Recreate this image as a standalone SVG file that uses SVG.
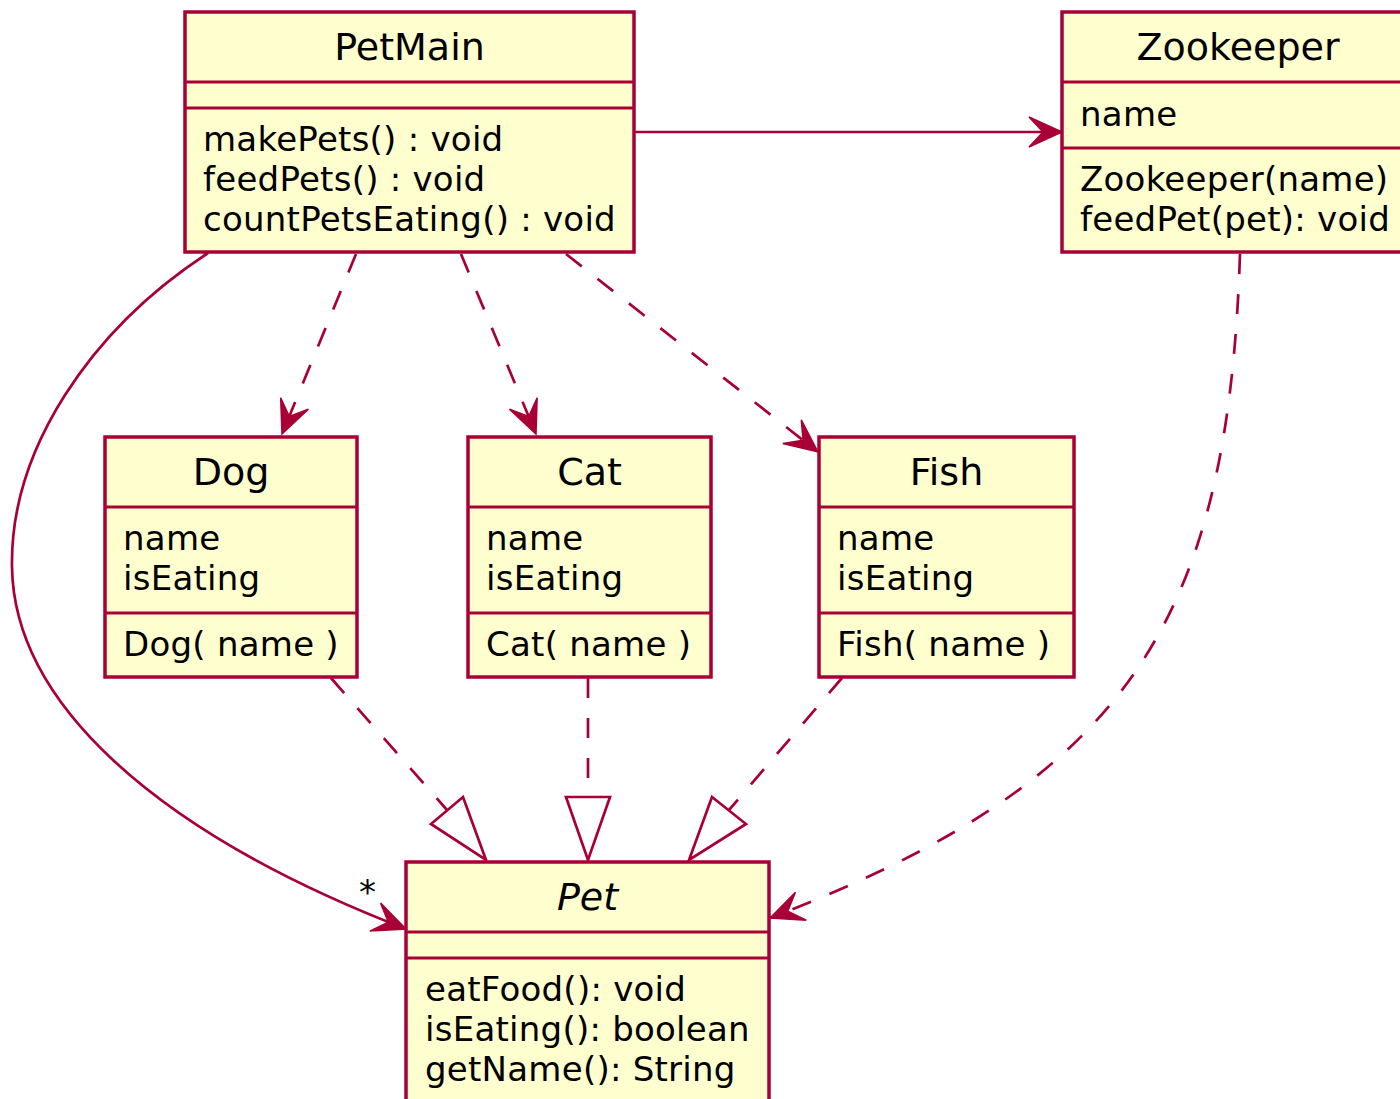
<svg xmlns="http://www.w3.org/2000/svg" width="1400" height="1099" viewBox="0 0 1400 1099">
<style>
.box{fill:#FEFECE;stroke:#A80036;stroke-width:3.5}
.sep{stroke:#A80036;stroke-width:3.2}
.t{font-family:"DejaVu Sans","Liberation Sans",sans-serif;fill:#000}
.title{font-size:38px;text-anchor:middle}
.mem{font-size:34px;letter-spacing:0.25px}
.ln{fill:none;stroke:#A80036;stroke-width:2.7}
.dash{stroke-dasharray:20 20}
.tri{fill:#FFFFFF;stroke:#A80036;stroke-width:2.7;stroke-linejoin:miter}
</style>
<defs>
<marker id="arr" markerUnits="userSpaceOnUse" viewBox="-40 -20 45 40" markerWidth="45" markerHeight="40" refX="0" refY="0" orient="auto" overflow="visible">
<path d="M0,0 L-33,-15 L-19,0 L-33,15 Z" fill="#A80036" stroke="#A80036" stroke-width="1.5" stroke-linejoin="miter"/>
</marker>
</defs>
<g id="connectors">
<path class="ln" d="M634,132 L1062,132" marker-end="url(#arr)"/>
<path class="ln dash" d="M356,254 L282,434" marker-end="url(#arr)"/>
<path class="ln dash" d="M461,254 L536,434" marker-end="url(#arr)"/>
<path class="ln dash" d="M566,254 L818,452" marker-end="url(#arr)"/>
<path class="ln" d="M208,253 C90,330 10,450 12,567 C14,700 150,830 406,929" marker-end="url(#arr)"/>
<text class="t mem" x="359" y="904">*</text>
<path class="ln dash" d="M1240,254 C1228,620 1130,780 770,918" marker-end="url(#arr)"/>
<path class="ln dash" d="M331,678 L447,810"/>
<polygon class="tri" points="463,797 431,824 486,860"/>
<path class="ln dash" d="M588,678 L588,797"/>
<polygon class="tri" points="566,797 610,797 588,860"/>
<path class="ln dash" d="M842,678 L729,810"/>
<polygon class="tri" points="712,797 746,824 689,860"/>
</g>
<g id="PetMain">
<rect class="box" x="185" y="12" width="449" height="240"/>
<line class="sep" x1="185" y1="82" x2="634" y2="82"/>
<line class="sep" x1="185" y1="108" x2="634" y2="108"/>
<text class="t title" x="409.5" y="60">PetMain</text>
<text class="t mem" x="203" y="151">makePets() : void</text>
<text class="t mem" x="203" y="191">feedPets() : void</text>
<text class="t mem" x="203" y="231">countPetsEating() : void</text>
</g>
<g id="Zookeeper">
<rect class="box" x="1062" y="12" width="352" height="240"/>
<line class="sep" x1="1062" y1="82" x2="1414" y2="82"/>
<line class="sep" x1="1062" y1="148" x2="1414" y2="148"/>
<text class="t title" x="1238" y="60">Zookeeper</text>
<text class="t mem" x="1080" y="126">name</text>
<text class="t mem" x="1080" y="191">Zookeeper(name)</text>
<text class="t mem" x="1080" y="231">feedPet(pet): void</text>
</g>
<g id="Dog">
<rect class="box" x="105" y="437" width="252" height="240"/>
<line class="sep" x1="105" y1="507" x2="357" y2="507"/>
<line class="sep" x1="105" y1="613" x2="357" y2="613"/>
<text class="t title" x="231" y="485">Dog</text>
<text class="t mem" x="123" y="550">name</text>
<text class="t mem" x="123" y="590">isEating</text>
<text class="t mem" x="123" y="656">Dog( name )</text>
</g>
<g id="Cat">
<rect class="box" x="468" y="437" width="243" height="240"/>
<line class="sep" x1="468" y1="507" x2="711" y2="507"/>
<line class="sep" x1="468" y1="613" x2="711" y2="613"/>
<text class="t title" x="589.5" y="485">Cat</text>
<text class="t mem" x="486" y="550">name</text>
<text class="t mem" x="486" y="590">isEating</text>
<text class="t mem" x="486" y="656">Cat( name )</text>
</g>
<g id="Fish">
<rect class="box" x="819" y="437" width="255" height="240"/>
<line class="sep" x1="819" y1="507" x2="1074" y2="507"/>
<line class="sep" x1="819" y1="613" x2="1074" y2="613"/>
<text class="t title" x="946.5" y="485">Fish</text>
<text class="t mem" x="837" y="550">name</text>
<text class="t mem" x="837" y="590">isEating</text>
<text class="t mem" x="837" y="656">Fish( name )</text>
</g>
<g id="Pet">
<rect class="box" x="406" y="862" width="363" height="260"/>
<line class="sep" x1="406" y1="932" x2="769" y2="932"/>
<line class="sep" x1="406" y1="958" x2="769" y2="958"/>
<text class="t title" x="587.5" y="910" font-style="italic">Pet</text>
<text class="t mem" x="425" y="1001">eatFood(): void</text>
<text class="t mem" x="425" y="1041">isEating(): boolean</text>
<text class="t mem" x="425" y="1081">getName(): String</text>
</g>
</svg>
